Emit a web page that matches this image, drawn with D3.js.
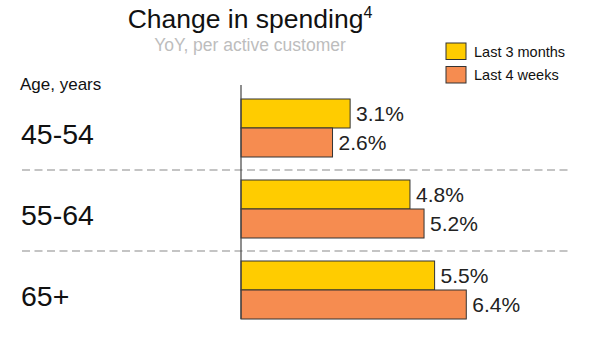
<!DOCTYPE html>
<html>
<head>
<meta charset="utf-8">
<script src="https://cdn.jsdelivr.net/npm/d3@7"></script>
<style>
  body { margin: 0; background: #fff; }
  svg { display: block; }
</style>
</head>
<body>
<div id="chart"></div>
<script>
// Spending change by age group
const ages = ["45-54", "55-64", "65+"];
const seriesNames = ["Last 3 months", "Last 4 weeks"];
const last3Months = [3.1, 4.8, 5.5];
const last4Weeks = [2.6, 5.2, 6.4];

const colors = ["#ffcc00", "#f68c50"];

const svg = d3.select("#chart")
    .append("svg")
    .attr("width", 611)
    .attr("height", 338)
    .attr("font-family", "'Liberation Sans', Arial, sans-serif");

const data = ages.map((a, i) => ({ age: a, values: [last3Months[i], last4Weeks[i]] }));

const x = d3.scaleLinear()
    .domain([0, 7])
    .range([241, 241 + 35.2 * 7]);

const y = d3.scaleBand()
    .domain(ages)
    .range([99, 319])
    .paddingInner(23 / 81)
    .paddingOuter(0);

const ySub = d3.scaleBand()
    .domain(seriesNames)
    .range([0, y.bandwidth()]);

// title
const title = svg.append("text")
    .attr("x", 250)
    .attr("y", 28)
    .attr("text-anchor", "middle")
    .attr("font-size", 26.5)
    .attr("fill", "#111");
title.append("tspan").text("Change in spending");
title.append("tspan")
    .attr("font-size", 16)
    .attr("dy", -10)
    .text("4");

svg.append("text")
    .attr("x", 250)
    .attr("y", 51)
    .attr("text-anchor", "middle")
    .attr("font-size", 17.5)
    .attr("fill", "#bdbdbd")
    .text("YoY, per active customer");

// legend
const legend = svg.append("g")
    .selectAll("g")
    .data(seriesNames)
    .enter().append("g")
    .attr("transform", (d, i) => `translate(446,${43 + i * 23.5})`);

legend.append("rect")
    .attr("width", 20)
    .attr("height", 16.5)
    .attr("fill", (d, i) => colors[i])
    .attr("stroke", "#333")
    .attr("stroke-width", 1);

legend.append("text")
    .attr("x", 28)
    .attr("y", 13.5)
    .attr("font-size", 14.5)
    .attr("fill", "#111")
    .text(d => d);

svg.append("text")
    .attr("x", 20)
    .attr("y", 90)
    .attr("font-size", 17)
    .attr("fill", "#111")
    .text("Age, years");

// dashed separators between groups
const gap = y.step() - y.bandwidth();
svg.append("g")
    .selectAll("line")
    .data(ages.slice(0, -1))
    .enter().append("line")
    .attr("x1", 22)
    .attr("x2", 572)
    .attr("y1", d => y(d) + y.bandwidth() + gap / 2 + 1.5)
    .attr("y2", d => y(d) + y.bandwidth() + gap / 2 + 1.5)
    .attr("stroke", "#c4c4c4")
    .attr("stroke-width", 2)
    .attr("stroke-dasharray", "8,4.5");

// category labels
svg.append("g")
    .selectAll("text")
    .data(ages)
    .enter().append("text")
    .attr("x", 21)
    .attr("y", d => y(d) + y.bandwidth() / 2)
    .attr("dy", "0.57em")
    .attr("font-size", 28.5)
    .attr("fill", "#111")
    .text(d => d);

// bars
const group = svg.append("g")
    .selectAll("g")
    .data(data)
    .enter().append("g")
    .attr("transform", d => `translate(0,${y(d.age)})`);

const cells = group.selectAll("g")
    .data(d => d.values.map((v, i) => ({ key: seriesNames[i], value: v, i })))
    .enter().append("g");

cells.append("rect")
    .attr("x", x(0))
    .attr("y", d => ySub(d.key))
    .attr("width", d => x(d.value) - x(0))
    .attr("height", ySub.bandwidth())
    .attr("fill", d => colors[d.i])
    .attr("stroke", "#333")
    .attr("stroke-width", 1);

cells.append("text")
    .attr("x", d => x(d.value) + 6)
    .attr("y", d => ySub(d.key) + ySub.bandwidth() / 2)
    .attr("dy", "0.38em")
    .attr("font-size", 21)
    .attr("fill", "#222")
    .text(d => d3.format(".1f")(d.value) + "%");

// vertical axis line
svg.append("line")
    .attr("x1", x(0))
    .attr("x2", x(0))
    .attr("y1", 85)
    .attr("y2", y.range()[1])
    .attr("stroke", "#444")
    .attr("stroke-width", 1.2);
</script>
</body>
</html>
